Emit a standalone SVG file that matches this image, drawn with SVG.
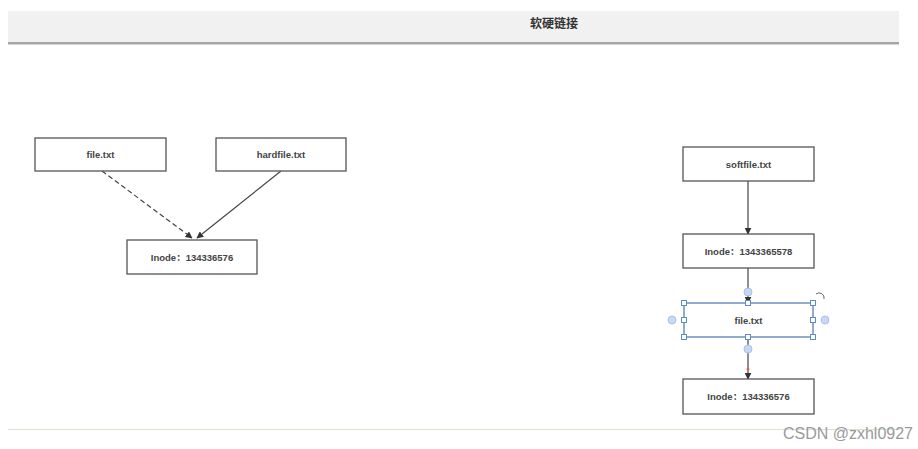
<svg xmlns="http://www.w3.org/2000/svg" width="918" height="449" viewBox="0 0 918 449">
<style>
.box{fill:#fff;stroke:#555;stroke-width:1.3}
.lbl{font-family:"Liberation Sans","Noto Sans CJK SC",sans-serif;font-size:9.5px;font-weight:bold;fill:#444;text-anchor:middle;dominant-baseline:central}
.edge{stroke:#444;stroke-width:1.2;fill:none}
.h{fill:#fff;stroke:#5b8bd0;stroke-width:1}
.c{fill:#c7d8f2;stroke:#a9c2ea;stroke-width:1}
</style>
<defs>
<marker id="ah" viewBox="0 0 10 10" refX="9" refY="5" markerWidth="7" markerHeight="7" orient="auto" markerUnits="userSpaceOnUse">
<path d="M0,0 L10,5 L0,10 z" fill="#333"/>
</marker>
</defs>
<rect width="918" height="449" fill="#fff"/>
<g id="header">
<rect x="8" y="11" width="891" height="31" fill="#f1f1f1"/>
<rect x="8" y="42" width="891" height="2.5" fill="#a6a6a8"/>
<text x="554" y="24" class="lbl" style="font-size:12px;fill:#333">软硬链接</text>
</g>
<g id="connectors">
<path class="edge" d="M102,171 L192,238" stroke-dasharray="5,3" marker-end="url(#ah)"/>
<path class="edge" d="M281,171 L197,238" marker-end="url(#ah)"/>
<path class="edge" d="M748,181 L748,234" marker-end="url(#ah)"/>
<path class="edge" d="M748,268 L748,303" marker-end="url(#ah)"/>
<path class="edge" d="M748,337 L748,379" marker-end="url(#ah)"/>
<circle cx="748" cy="369" r="1.5" fill="#e06050"/>
</g>
<g id="n-file-left">
<rect class="box" x="35" y="138" width="131" height="33"/>
<text class="lbl" x="100.5" y="154.5">file.txt</text>
</g>
<g id="n-hardfile">
<rect class="box" x="216" y="138" width="130" height="33"/>
<text class="lbl" x="281" y="154.5">hardfile.txt</text>
</g>
<g id="n-inode-left">
<rect class="box" x="127" y="240" width="130" height="34"/>
<text class="lbl" x="192" y="257">Inode：134336576</text>
</g>
<g id="n-softfile">
<rect class="box" x="683" y="147" width="131" height="34"/>
<text class="lbl" x="748.5" y="164">softfile.txt</text>
</g>
<g id="n-inode-soft">
<rect class="box" x="683" y="234" width="131" height="34"/>
<text class="lbl" x="748.5" y="251">Inode：1343365578</text>
</g>
<g id="n-file-right">
<rect class="box" x="684" y="303" width="129" height="34" style="stroke:#5b7fb8"/>
<text class="lbl" x="748.5" y="320">file.txt</text>
<circle class="c" cx="748" cy="292" r="4"/>
<circle class="c" cx="748" cy="349" r="4"/>
<circle class="c" cx="672" cy="320" r="4"/>
<circle class="c" cx="825" cy="320" r="4"/>
<rect class="h" x="681.5" y="300.5" width="5" height="5"/>
<rect class="h" x="745.5" y="300.5" width="5" height="5"/>
<rect class="h" x="810.5" y="300.5" width="5" height="5"/>
<rect class="h" x="681.5" y="317.5" width="5" height="5"/>
<rect class="h" x="810.5" y="317.5" width="5" height="5"/>
<rect class="h" x="681.5" y="334.5" width="5" height="5"/>
<rect class="h" x="745.5" y="334.5" width="5" height="5"/>
<rect class="h" x="810.5" y="334.5" width="5" height="5"/>
<path d="M816,294 A5,5 0 0 1 824,299" fill="none" stroke="#666" stroke-width="1"/>
</g>
<g id="n-inode-right">
<rect class="box" x="683" y="379" width="131" height="35"/>
<text class="lbl" x="748.5" y="396.5">Inode：134336576</text>
</g>
<g id="footer">
<line x1="8" y1="429.5" x2="900" y2="429.5" stroke="#d8e2d0" stroke-width="1"/>
<text x="913" y="439" style="font-family:'Liberation Sans',sans-serif;font-size:16px;fill:#9a9a9a;text-anchor:end">CSDN @zxhl0927</text>
</g>
</svg>
